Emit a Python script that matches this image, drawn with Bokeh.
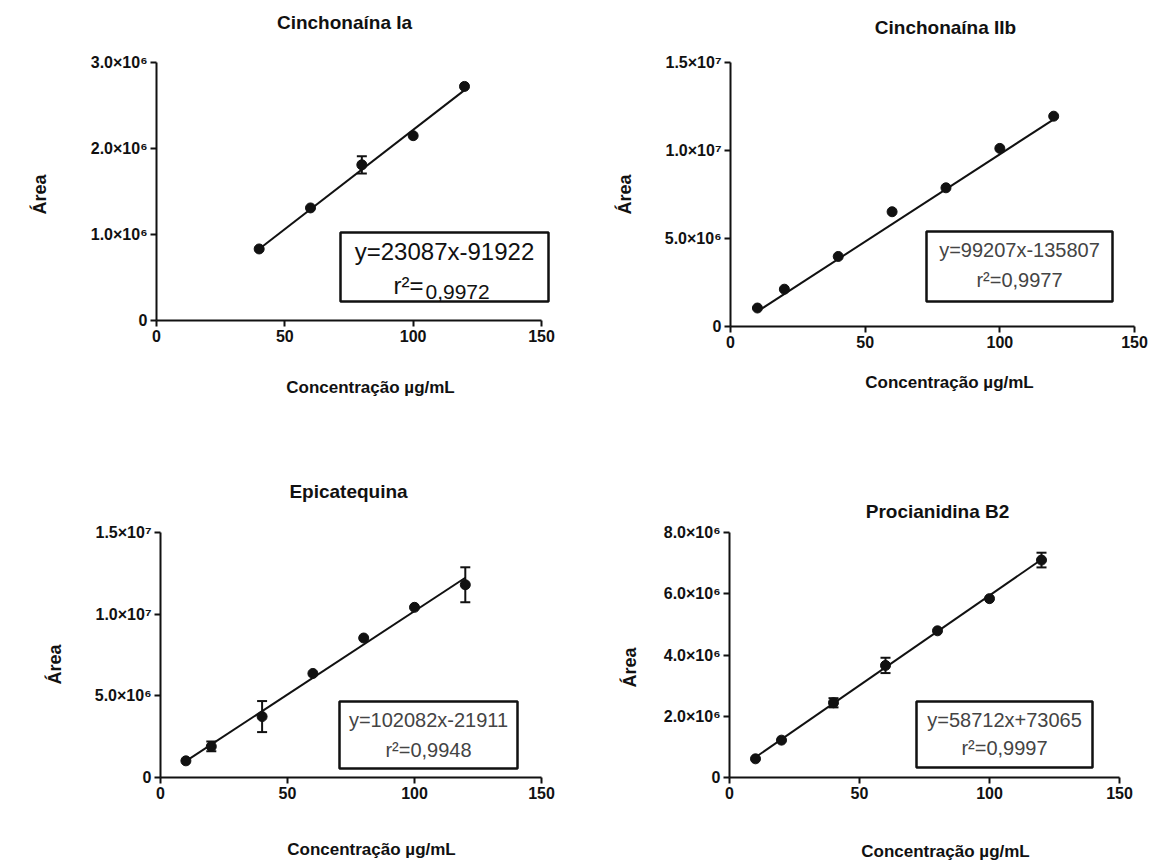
import math
from bokeh.plotting import figure
from bokeh.layouts import column, row
from bokeh.models import ColumnDataSource, Whisker, TeeHead, FixedTicker, BoxAnnotation, Label
from bokeh.embed import file_html
from bokeh.resources import INLINE

# ---------------- data ----------------
titles = ["Cinchonaína Ia", "Cinchonaína IIb", "Epicatequina", "Procianidina B2"]
x_label = "Concentração µg/mL"
y_label = "Área"
x_ticks = [0, 50, 100, 150]

conc_ia = [40, 60, 80, 100, 120]
area_ia = [0.832e6, 1.309e6, 1.81e6, 2.149e6, 2.722e6]
err_ia = [0, 0, 0.1e6, 0, 0]

conc_iib = [10, 20, 40, 60, 80, 100, 120]
area_iib = [1.05e6, 2.12e6, 3.98e6, 6.52e6, 7.88e6, 10.12e6, 11.95e6]
err_iib = [0, 0, 0, 0, 0, 0, 0]

conc_epi = [10, 20, 40, 60, 80, 100, 120]
area_epi = [1.02e6, 1.9e6, 3.73e6, 6.37e6, 8.54e6, 10.42e6, 11.8e6]
err_epi = [0, 0.3e6, 0.95e6, 0, 0, 0, 1.07e6]

conc_b2 = [10, 20, 40, 60, 80, 100, 120]
area_b2 = [0.61e6, 1.22e6, 2.44e6, 3.66e6, 4.79e6, 5.84e6, 7.1e6]
err_b2 = [0, 0, 0.15e6, 0.25e6, 0, 0, 0.24e6]

slopes = [23087, 99207, 102082, 58712]
intercepts = [-91922, -135807, -21911, 73065]
eq_texts = ["y=23087x-91922", "y=99207x-135807", "y=102082x-21911", "y=58712x+73065"]
r2_texts = ["0,9972", "0,9977", "0,9948", "0,9997"]

y_ticks_ia = [0, 1e6, 2e6, 3e6]
y_labels_ia = ["0", "1.0×10⁶", "2.0×10⁶", "3.0×10⁶"]
y_ticks_iib = [0, 5e6, 1e7, 1.5e7]
y_labels_iib = ["0", "5.0×10⁶", "1.0×10⁷", "1.5×10⁷"]
y_ticks_epi = [0, 5e6, 1e7, 1.5e7]
y_labels_epi = ["0", "5.0×10⁶", "1.0×10⁷", "1.5×10⁷"]
y_ticks_b2 = [0, 2e6, 4e6, 6e6, 8e6]
y_labels_b2 = ["0", "2.0×10⁶", "4.0×10⁶", "6.0×10⁶", "8.0×10⁶"]

FONT = "Liberation Sans"
INK = "#111111"

# ---------------- layout (page pixels) ----------------
# fig: left, top, width, height ; axis: x0px, x150px, y0px, ytop px
layouts = [
    dict(fig=(1, 1, 583, 427), axis=(157, 542, 321, 63),
         title=(345, 23), xlab=(371, 388), ylab=(40, 195),
         box=(341, 549, 233, 302), eq=(445, 252), r2=(424, 286, 292),
         eq_size="24px", r2_size="21px", eq_color=INK, big=True),
    dict(fig=(584, 1, 571, 427), axis=(731, 1135, 327, 63),
         title=(946, 28), xlab=(950, 383), ylab=(625, 195),
         box=(927, 1113, 232, 302), eq=(1020, 250), r2=(1020, 280),
         eq_size="20px", r2_size="20px", eq_color="#444444", big=False),
    dict(fig=(1, 428, 583, 435), axis=(161, 542, 778, 533),
         title=(349, 492), xlab=(372, 850), ylab=(55, 665),
         box=(340, 518, 702, 769), eq=(429, 720), r2=(429, 750),
         eq_size="20px", r2_size="20px", eq_color="#444444", big=False),
    dict(fig=(584, 428, 571, 435), axis=(730, 1120, 778, 533),
         title=(938, 512), xlab=(946, 852), ylab=(630, 668),
         box=(917, 1093, 702, 768), eq=(1005, 720), r2=(1005, 748),
         eq_size="20px", r2_size="20px", eq_color="#444444", big=False),
]


def make_panel(L, title, xs, ys, errs, slope, intercept, yticks, ylabels, eq, r2):
    fl, ft, w, h = L["fig"]
    X0, X150, Y0, YT = L["axis"]
    ymax = yticks[-1]
    kx = (X150 - X0) / 150.0
    ky = (Y0 - YT) / ymax

    def dx(px):
        return (px - X0) / kx

    def dy(py):
        return (Y0 - py) / ky

    p = figure(width=w, height=h, x_range=(dx(fl), dx(fl + w)), y_range=(dy(ft + h), dy(ft)),
               output_backend="svg", toolbar_location=None,
               min_border_left=0, min_border_right=0, min_border_top=0, min_border_bottom=0)
    p.outline_line_color = None
    p.grid.visible = False
    p.background_fill_color = "white"
    p.border_fill_color = "white"

    for ax in (p.xaxis[0], p.yaxis[0]):
        ax.fixed_location = 0
        ax.axis_line_width = 2
        ax.axis_line_color = INK
        ax.major_tick_line_width = 2
        ax.major_tick_line_color = INK
        ax.major_tick_out = 6
        ax.major_tick_in = 0
        ax.minor_tick_line_color = None
        ax.major_label_text_font = FONT
        ax.major_label_text_font_size = "16px"
        ax.major_label_text_font_style = "bold"
        ax.major_label_text_color = INK
        ax.major_label_standoff = 3

    p.xaxis[0].ticker = FixedTicker(ticks=x_ticks)
    p.xaxis[0].bounds = (0, 150)
    p.yaxis[0].ticker = FixedTicker(ticks=yticks)
    p.yaxis[0].bounds = (0, ymax)
    p.yaxis[0].major_label_overrides = {int(t): l for t, l in zip(yticks, ylabels)}

    # title and axis titles
    p.add_layout(Label(x=dx(L["title"][0]), y=dy(L["title"][1]), text=title,
                       text_align="center", text_baseline="middle", text_font=FONT,
                       text_font_size="19px", text_font_style="bold", text_color=INK))
    p.add_layout(Label(x=dx(L["xlab"][0]), y=dy(L["xlab"][1]), text=x_label,
                       text_align="center", text_baseline="middle", text_font=FONT,
                       text_font_size="17px", text_font_style="bold", text_color=INK))
    p.add_layout(Label(x=dx(L["ylab"][0]), y=dy(L["ylab"][1]), text=y_label, angle=math.pi / 2,
                       text_align="center", text_baseline="middle", text_font=FONT,
                       text_font_size="18px", text_font_style="bold", text_color=INK))

    # fitted line
    x0, x1 = min(xs), max(xs)
    p.line([x0, x1], [slope * x0 + intercept, slope * x1 + intercept],
           line_color=INK, line_width=2)

    # error bars
    ex = [x for x, e in zip(xs, errs) if e > 0]
    if ex:
        src = ColumnDataSource(dict(
            x=ex,
            upper=[y + e for y, e in zip(ys, errs) if e > 0],
            lower=[y - e for y, e in zip(ys, errs) if e > 0]))
        p.add_layout(Whisker(base="x", upper="upper", lower="lower", source=src,
                             line_width=2, line_color=INK,
                             upper_head=TeeHead(size=10, line_width=2, line_color=INK),
                             lower_head=TeeHead(size=10, line_width=2, line_color=INK)))

    p.scatter(xs, ys, size=10, color=INK)

    # equation box
    b = L["box"]
    p.add_layout(BoxAnnotation(left=dx(b[0]), right=dx(b[1]), top=dy(b[2]), bottom=dy(b[3]),
                               fill_color=None, fill_alpha=0.0,
                               line_color=INK, line_alpha=1.0, line_width=2.5))
    p.add_layout(Label(x=dx(L["eq"][0]), y=dy(L["eq"][1]), text=eq, text_align="center",
                       text_baseline="middle", text_font=FONT,
                       text_font_size=L["eq_size"], text_color=L["eq_color"]))
    r = L["r2"]
    if L["big"]:
        p.add_layout(Label(x=dx(r[0]), y=dy(r[1]), text="r²=", text_align="right",
                           text_baseline="middle", text_font=FONT,
                           text_font_size=L["eq_size"], text_color=L["eq_color"]))
        p.add_layout(Label(x=dx(r[0] + 2), y=dy(r[2]), text=r2, text_align="left",
                           text_baseline="middle", text_font=FONT,
                           text_font_size=L["r2_size"], text_color=L["eq_color"]))
    else:
        p.add_layout(Label(x=dx(r[0]), y=dy(r[1]), text="r²=" + r2, text_align="center",
                           text_baseline="middle", text_font=FONT,
                           text_font_size=L["r2_size"], text_color=L["eq_color"]))
    return p


p1 = make_panel(layouts[0], titles[0], conc_ia, area_ia, err_ia, slopes[0], intercepts[0],
                y_ticks_ia, y_labels_ia, eq_texts[0], r2_texts[0])
p2 = make_panel(layouts[1], titles[1], conc_iib, area_iib, err_iib, slopes[1], intercepts[1],
                y_ticks_iib, y_labels_iib, eq_texts[1], r2_texts[1])
p3 = make_panel(layouts[2], titles[2], conc_epi, area_epi, err_epi, slopes[2], intercepts[2],
                y_ticks_epi, y_labels_epi, eq_texts[2], r2_texts[2])
p4 = make_panel(layouts[3], titles[3], conc_b2, area_b2, err_b2, slopes[3], intercepts[3],
                y_ticks_b2, y_labels_b2, eq_texts[3], r2_texts[3])

layout = column(row(p1, p2), row(p3, p4))
open("out.html", "w").write(file_html(layout, INLINE))
